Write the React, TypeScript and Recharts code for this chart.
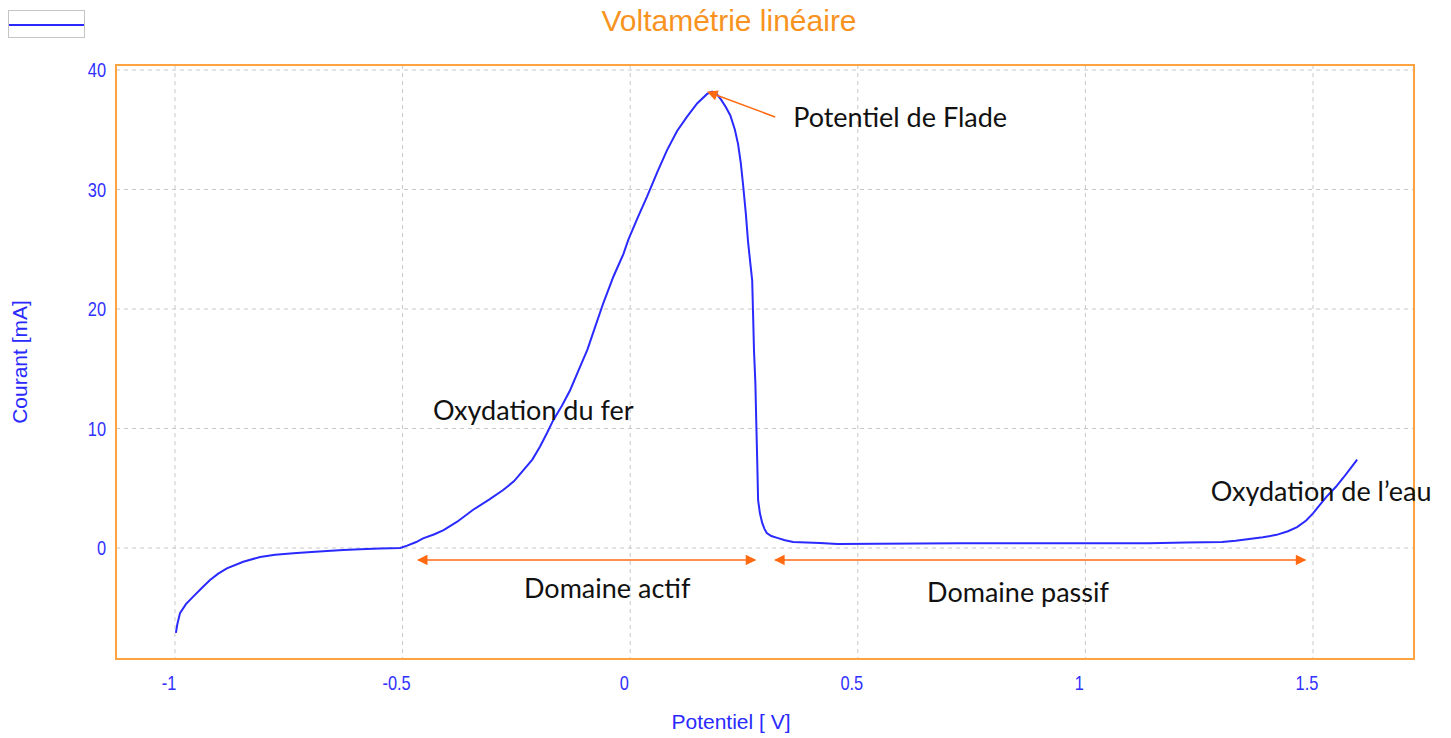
import {
  CartesianGrid,
  Line,
  LineChart,
  ReferenceArea,
  ReferenceDot,
  ReferenceLine,
  XAxis,
  YAxis,
} from "recharts"

// potentiel (V) et courant (mA)
const potentiel = [
  -0.998, -0.995, -0.989, -0.976, -0.96, -0.94, -0.923, -0.905, -0.886, -0.85,
  -0.813, -0.78, -0.74, -0.7, -0.666, -0.63, -0.593, -0.55, -0.505, -0.49,
  -0.47, -0.455, -0.43, -0.41, -0.38, -0.345, -0.31, -0.279, -0.255, -0.235,
  -0.215, -0.198, -0.183, -0.169, -0.15, -0.132, -0.113, -0.094, -0.077, -0.059,
  -0.037, -0.015, -0.004, 0.016, 0.037, 0.06, 0.081, 0.103, 0.125, 0.147,
  0.169, 0.18, 0.19, 0.2, 0.21, 0.22, 0.23, 0.237, 0.243, 0.248,
  0.254, 0.259, 0.264, 0.268, 0.27, 0.272, 0.275, 0.277, 0.279, 0.281,
  0.285, 0.29, 0.295, 0.3, 0.31, 0.323, 0.34, 0.358, 0.417, 0.455,
  0.725, 1.14, 1.22, 1.3, 1.33, 1.36, 1.39, 1.42, 1.445, 1.465,
  1.485, 1.5, 1.515, 1.53, 1.55, 1.567, 1.582, 1.597,
]
const courant = [
  -7.1, -6.4, -5.45, -4.7, -4.07, -3.3, -2.68, -2.15, -1.7, -1.15,
  -0.75, -0.57, -0.45, -0.34, -0.25, -0.17, -0.1, -0.05, 0.0, 0.2,
  0.5, 0.8, 1.15, 1.5, 2.2, 3.2, 4.05, 4.85, 5.6, 6.5,
  7.4, 8.5, 9.6, 10.7, 11.9, 13.2, 14.9, 16.6, 18.5, 20.5,
  22.7, 24.6, 25.8, 27.6, 29.4, 31.5, 33.3, 34.9, 36.1, 37.2,
  38.0, 38.2, 38.0, 37.5, 36.9, 36.2, 35.0, 33.8, 32.2, 30.4,
  28.0, 25.6, 23.8, 22.4, 19.5, 16.5, 13.8, 10.5, 7.4, 4.0,
  2.9, 2.1, 1.6, 1.25, 1.0, 0.85, 0.65, 0.5, 0.42, 0.33,
  0.4, 0.4, 0.45, 0.5, 0.6, 0.75, 0.9, 1.1, 1.4, 1.75,
  2.3, 2.9, 3.6, 4.3, 5.1, 5.9, 6.65, 7.4,
]

const xTicks = [-1, -0.5, 0, 0.5, 1, 1.5]
const yTicks = [0, 10, 20, 30, 40]
const xDomain: [number, number] = [-1.1296, 1.7219]
const yDomain: [number, number] = [-9.29, 40.42]

// annotations: texte, position (V, mA)
const notes = [
  { text: "Potentiel de Flade", x: 0.593, y: 36.07 },
  { text: "Oxydation du fer", x: -0.213, y: 11.55 },
  { text: "Domaine actif", x: -0.0505, y: -3.35 },
  { text: "Domaine passif", x: 0.852, y: -3.68 },
  { text: "Oxydation de l\u2019eau", x: 1.518, y: 4.77 },
]

// flèches: début/fin (V, mA)
const arrows = [
  { x1: -0.466, y1: -1.0, x2: 0.2746, y2: -1.0, both: true },
  { x1: 0.3185, y1: -1.0, x2: 1.483, y2: -1.0, both: true },
  { x1: 0.3185, y1: 36.07, x2: 0.171, y2: 38.16, both: false },
]

const data = potentiel.map((v, i) => ({ v, i: courant[i] }))

const BLUE = "#2a2aff"
const TICK_BLUE = "#3030ff"
const ORANGE = "#ff6a10"
const ARIAL = "'Liberation Sans', Arial, sans-serif"
const NOTE_FONT = "Lato, 'Open Sans', sans-serif"

// police étroite imitée par un étirement horizontal
function XTick({ x, y, payload }: any) {
  return (
    <g transform={`translate(${x - 6},${y})`}>
      <text
        transform="scale(0.82,1)"
        textAnchor="middle"
        dy="0.71em"
        fill={TICK_BLUE}
        fontSize={20}
        fontFamily={ARIAL}
      >
        {payload.value}
      </text>
    </g>
  )
}

function YTick({ x, y, payload }: any) {
  return (
    <g transform={`translate(${x},${y})`}>
      <text
        transform="scale(0.82,1)"
        textAnchor="end"
        dy="0.355em"
        fill={TICK_BLUE}
        fontSize={20}
        fontFamily={ARIAL}
      >
        {payload.value}
      </text>
    </g>
  )
}

export default function App() {
  return (
    <div style={{ position: "relative", width: 1451, height: 738, background: "#fff" }}>
      <style>{"body{margin:0}"}</style>
      <div
        style={{
          position: "absolute",
          left: 8,
          top: 10,
          width: 75,
          height: 26,
          border: "1px solid #c4c4c4",
        }}
      >
        <div style={{ position: "absolute", left: 0, right: 0, top: 13, height: 2, background: BLUE }} />
      </div>
      <div
        style={{
          position: "absolute",
          left: 0,
          width: 1458,
          top: 4,
          textAlign: "center",
          color: "#f7931e",
          fontFamily: ARIAL,
          fontSize: 30,
        }}
      >
        Voltamétrie linéaire
      </div>
      <LineChart
        width={1451}
        height={738}
        data={data}
        margin={{ top: 65, right: 37, left: 56, bottom: 39 }}
        style={{ position: "absolute", left: 0, top: 0 }}
      >
        <defs>
          <marker id="head" viewBox="0 0 10 10" refX="9" refY="5" markerWidth="8" markerHeight="7" orient="auto-start-reverse">
            <path d="M0,0 L10,5 L0,10 z" fill={ORANGE} />
          </marker>
        </defs>
        <CartesianGrid stroke="#c8c8c8" strokeDasharray="4 4" />
        <XAxis
          dataKey="v"
          type="number"
          domain={xDomain}
          ticks={xTicks}
          allowDataOverflow
          axisLine={false}
          tickLine={false}
          tickMargin={11}
          height={40}
          tick={<XTick />}
          label={{
            value: "Potentiel [ V]",
            position: "insideBottom",
            offset: -30,
            dx: -34,
            fill: BLUE,
            fontSize: 21,
            fontFamily: ARIAL,
          }}
        />
        <YAxis
          type="number"
          domain={yDomain}
          ticks={yTicks}
          allowDataOverflow
          axisLine={false}
          tickLine={false}
          tickMargin={4}
          width={60}
          tick={<YTick />}
          label={{
            value: "Courant [mA]",
            angle: -90,
            position: "insideLeft",
            offset: -36,
            fill: BLUE,
            fontSize: 21,
            fontFamily: ARIAL,
            style: { textAnchor: "middle" },
          }}
        />
        <ReferenceArea
          x1={xDomain[0]}
          x2={xDomain[1]}
          y1={yDomain[0]}
          y2={yDomain[1]}
          fill="none"
          fillOpacity={0}
          stroke="#ffa340"
          strokeWidth={2}
          ifOverflow="visible"
        />
        <Line
          dataKey="i"
          type="linear"
          stroke={BLUE}
          strokeWidth={2}
          dot={false}
          isAnimationActive={false}
        />
        {arrows.map((a, k) => (
          <ReferenceLine
            key={`arrow-${k}`}
            segment={[
              { x: a.x1, y: a.y1 },
              { x: a.x2, y: a.y2 },
            ]}
            stroke={ORANGE}
            strokeWidth={1.5}
            markerEnd="url(#head)"
            markerStart={a.both ? "url(#head)" : undefined}
            ifOverflow="visible"
          />
        ))}
        {notes.map((n) => (
          <ReferenceDot
            key={n.text}
            x={n.x}
            y={n.y}
            r={0.5}
            fill="none"
            stroke="none"
            ifOverflow="visible"
            label={{
              value: n.text,
              position: "center",
              fill: "#111",
              fontSize: 27,
              fontFamily: NOTE_FONT,
            }}
          />
        ))}
      </LineChart>
    </div>
  )
}
